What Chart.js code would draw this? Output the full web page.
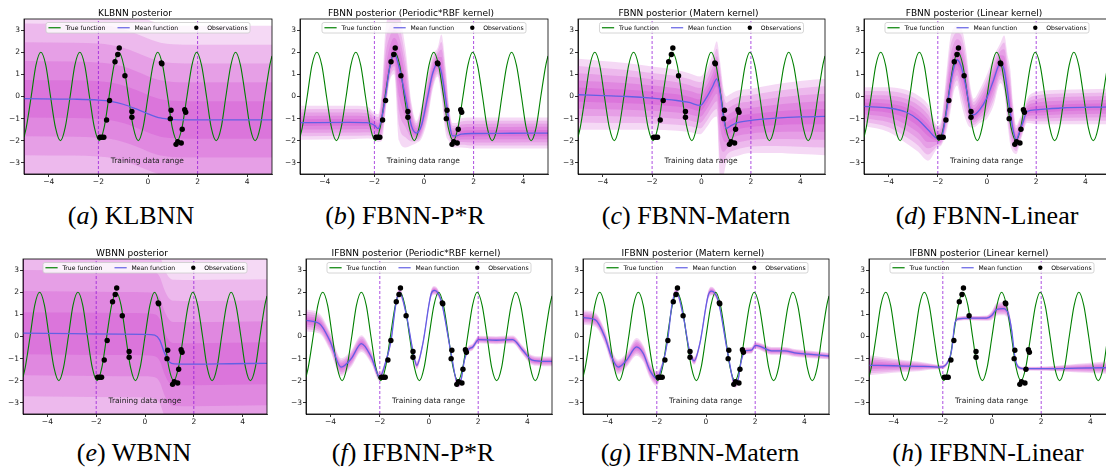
<!DOCTYPE html>
<html>
<head>
<meta charset="utf-8">
<script src="https://cdn.jsdelivr.net/npm/chart.js@4.4.0/dist/chart.umd.min.js"></script>
<style>
  body { margin: 0; width: 1106px; height: 474px; overflow: hidden; background: #fff; position: relative; }
  .cap { position: absolute; width: 320px; text-align: center; font-family: 'Liberation Serif', serif; font-size: 26px; line-height: 26px; color: #000; white-space: nowrap; }
</style>
</head>
<body>
<script>
// axis ticks and shared series
const xTicks = [-4, -2, 0, 2, 4];
const yTicks = [-3, -2, -1, 0, 1, 2, 3];
const trainRange = [-2, 2];
const seriesNames = ['True function', 'Mean function', 'Observations'];

// true function
const trueX = [-5, -4.91, -4.71, -4.52, -4.32, -4.12, -3.93, -3.73, -3.53, -3.34, -3.14, -2.95, -2.75, -2.55, -2.36, -2.16, -1.96, -1.77, -1.57, -1.37, -1.18, -0.98, -0.79, -0.59, -0.39, -0.20, 0, 0.20, 0.39, 0.59, 0.79, 0.98, 1.18, 1.37, 1.57, 1.77, 1.96, 2.16, 2.36, 2.55, 2.75, 2.95, 3.14, 3.34, 3.53, 3.73, 3.93, 4.12, 4.32, 4.52, 4.71, 4.91, 5];
const trueY = [-1.83, -1.41, 0, 1.41, 2, 1.41, 0, -1.41, -2, -1.41, 0, 1.41, 2, 1.41, 0, -1.41, -2, -1.41, 0, 1.41, 2, 1.41, 0, -1.41, -2, -1.41, 0, 1.41, 2, 1.41, 0, -1.41, -2, -1.41, 0, 1.41, 2, 1.41, 0, -1.41, -2, -1.41, 0, 1.41, 2, 1.41, 0, -1.41, -2, -1.41, 0, 1.41, 1.83];

// observations (same in every panel)
const obsX = [-1.94, -1.86, -1.78, -1.67, -1.55, -1.33, -1.22, -1.16, -0.93, -0.65, -0.65, 0.54, 0.56, 0.90, 0.93, 1.13, 1.20, 1.34, 1.38, 1.48, 1.52];
const obsY = [-1.84, -1.84, -1.84, -1.06, -0.18, 1.57, 1.90, 2.19, 0.94, -0.68, -0.94, 1.52, 1.48, -1.00, -0.62, -2.16, -2.04, -2.10, -1.48, -0.60, -0.71];

// (a) KLBNN: mean and outer band edges
const aX = [-5, -3, -2, -1.5, -1, -0.5, 0, 0.5, 1, 1.5, 3, 5];
const aMean = [-0.10, -0.12, -0.16, -0.22, -0.35, -0.55, -0.78, -0.97, -1.04, -1.06, -1.06, -1.06];
const aHi = [4.15, 4.13, 4.09, 4.03, 3.90, 3.70, 3.47, 3.28, 3.21, 3.19, 3.19, 3.19];
const aLo = [-4.35, -4.37, -4.41, -4.47, -4.60, -4.80, -5.03, -5.22, -5.29, -5.31, -5.31, -5.31];

// (b) FBNN Periodic*RBF
const bX = [-5, -3, -2.3, -2.0, -1.85, -1.7, -1.55, -1.4, -1.2, -1.0, -0.75, -0.5, -0.3, -0.1, 0.15, 0.35, 0.55, 0.7, 0.88, 1.0, 1.15, 1.3, 1.5, 2.0, 3.5, 5];
const bMean = [-1.18, -1.17, -1.18, -1.3, -1.45, -0.95, 0.0, 1.2, 1.95, 1.3, 0.0, -1.35, -1.65, -1.3, 0.0, 1.05, 1.5, 1.1, -0.15, -1.05, -1.78, -1.78, -1.70, -1.67, -1.66, -1.65];
const bHi = [-0.42, -0.42, -0.45, -0.75, -0.8, 0.3, 3.1, 3.6, 3.7, 3.6, 2.2, -0.3, -1.1, -0.4, 1.0, 1.9, 2.2, 2.8, 1.3, -0.3, -1.2, -1.2, -0.98, -0.95, -0.95, -0.95];
const bLo = [-1.95, -1.93, -1.9, -1.95, -2.05, -2.0, -0.7, 0.6, 1.0, -2.0, -2.3, -2.2, -2.1, -1.9, -1.0, 0.3, 0.9, 0.0, -1.7, -2.0, -2.3, -2.3, -2.3, -2.35, -2.35, -2.35];

// (c) FBNN Matern
const cX = [-5, -4, -3, -2, -1, -0.5, -0.05, 0.2, 0.45, 0.62, 0.75, 0.9, 1.0, 1.15, 1.4, 2.0, 3.0, 4.0, 5];
const cMean = [0.08, 0.04, 0.0, -0.07, -0.18, -0.27, -0.40, -0.05, 0.45, 0.8, 0.2, -1.0, -1.45, -1.35, -1.2, -1.08, -0.98, -0.92, -0.90];
const cHi = [1.7, 1.6, 1.5, 1.35, 1.2, 1.05, 0.9, 1.25, 1.9, 2.5, 1.6, 0.3, 0.0, 0.1, 0.25, 0.35, 0.55, 0.7, 0.8];
const cLo = [-1.5, -1.5, -1.5, -1.5, -1.55, -1.6, -1.7, -1.4, -1.0, -0.9, -3.6, -3.5, -3.0, -2.8, -2.7, -2.55, -2.55, -2.6, -2.65];

// (d) FBNN Linear
const dX = [-5, -4, -3.3, -2.8, -2.4, -2.0, -1.85, -1.7, -1.5, -1.35, -1.22, -1.05, -0.85, -0.68, -0.54, -0.3, 0.0, 0.27, 0.54, 0.7, 0.85, 0.95, 1.05, 1.19, 1.32, 1.45, 1.63, 2.0, 3.0, 5];
const dMean = [-0.45, -0.52, -0.70, -1.05, -1.5, -1.9, -1.85, -1.05, 0.45, 1.3, 1.66, 1.35, 0.4, -0.6, -0.83, -0.6, -0.05, 0.75, 1.5, 1.2, 0.1, -0.75, -1.45, -1.96, -1.6, -1.2, -0.68, -0.6, -0.52, -0.47];
const dHi = [0.42, 0.42, 0.3, 0.05, -0.35, -1.3, -1.0, 0.5, 2.6, 3.1, 3.2, 3.1, 2.1, 0.5, -0.1, 0.3, 1.0, 1.8, 2.4, 2.75, 1.8, 1.2, -0.2, -1.3, -1.0, -0.7, -0.1, 0.2, 0.3, 0.35];
const dLo = [-1.33, -1.6, -2.1, -2.5, -2.9, -2.3, -2.2, -1.8, -0.8, 0.2, 0.5, -0.3, -1.1, -1.4, -1.4, -1.2, -1.0, -0.4, 0.6, 0.2, -1.4, -2.2, -2.5, -2.6, -2.2, -1.7, -1.2, -1.25, -1.25, -1.25];

// (e) WBNN
const eX = [-5, -3, -1, 0, 0.4, 0.6, 0.8, 1.0, 1.2, 2, 3.5, 5];
const eMean = [0.15, 0.13, 0.11, 0.10, 0.06, -0.15, -0.75, -1.15, -1.24, -1.25, -1.23, -1.21];
const eHi = [4.90, 4.88, 4.86, 4.85, 4.81, 4.60, 4.00, 3.60, 3.51, 3.50, 3.52, 3.54];
const eLo = [-4.60, -4.62, -4.64, -4.65, -4.69, -4.90, -5.50, -5.90, -5.99, -6.00, -5.98, -5.96];

// (f) IFBNN Periodic*RBF
const fX = [-5, -4.45, -4.04, -3.57, -3.16, -2.75, -2.35, -2.0, -1.74, -1.54, -1.35, -1.2, -0.93, -0.66, -0.5, -0.25, 0.09, 0.22, 0.49, 0.9, 1.17, 1.3, 1.44, 1.58, 1.78, 2.02, 2.73, 3.4, 3.81, 4.2, 4.62, 5];
const fMean = [0.73, 0.58, -0.17, -1.38, -1.0, -0.32, -0.92, -1.83, -1.07, -0.17, 1.45, 2.0, 1.03, -0.62, -1.3, -0.32, 1.93, 2.08, 1.63, -0.77, -2.13, -1.98, -1.07, -0.62, -0.47, -0.14, -0.17, -0.14, -0.62, -1.07, -1.12, -1.12];
const fHi = [1.23, 1.03, 0.25, -0.98, -0.62, 0.06, -0.62, -1.63, -0.92, -0.02, 1.65, 2.2, 1.18, -0.47, -1.12, -0.17, 2.11, 2.28, 1.78, -0.62, -1.95, -1.80, -0.92, -0.47, -0.32, 0.03, 0.01, 0.04, -0.42, -0.85, -0.90, -0.90];
const fLo = [0.23, 0.13, -0.59, -1.78, -1.38, -0.70, -1.22, -2.03, -1.22, -0.32, 1.25, 1.8, 0.88, -0.77, -1.48, -0.47, 1.75, 1.88, 1.48, -0.92, -2.31, -2.16, -1.22, -0.77, -0.62, -0.31, -0.35, -0.32, -0.82, -1.29, -1.34, -1.34];

// (g) IFBNN Matern
const gX = [-5, -4.51, -4.11, -3.84, -3.57, -3.23, -2.82, -2.55, -2.28, -2.0, -1.74, -1.56, -1.38, -1.2, -0.93, -0.66, -0.48, -0.25, 0.09, 0.22, 0.49, 0.9, 1.17, 1.28, 1.44, 1.58, 1.85, 2.01, 2.25, 2.66, 3.2, 3.6, 4.15, 5];
const gMean = [0.85, 0.76, -0.02, -0.92, -1.38, -1.07, -0.47, -0.77, -1.53, -1.9, -1.15, -0.17, 1.45, 2.0, 0.95, -0.7, -1.1, -0.32, 1.86, 2.05, 1.63, -0.85, -2.13, -2.05, -1.07, -0.65, -0.62, -0.4, -0.47, -0.65, -0.65, -0.74, -0.8, -0.88];
const gHi = [1.18, 1.08, 0.30, -0.60, -1.05, -0.75, -0.07, -0.39, -1.18, -1.56, -1.0, -0.02, 1.63, 2.2, 1.1, -0.55, -0.92, -0.17, 2.06, 2.25, 1.78, -0.7, -1.95, -1.87, -0.92, -0.5, -0.47, -0.25, -0.3, -0.47, -0.47, -0.56, -0.63, -0.73];
const gLo = [0.52, 0.44, -0.34, -1.24, -1.71, -1.39, -0.87, -1.15, -1.88, -2.24, -1.3, -0.32, 1.27, 1.8, 0.8, -0.85, -1.28, -0.47, 1.66, 1.85, 1.48, -1.0, -2.31, -2.23, -1.22, -0.8, -0.77, -0.55, -0.64, -0.83, -0.83, -0.92, -0.97, -1.03];

// (h) IFBNN Linear
const hX = [-5, -4, -3, -2.5, -2.11, -1.84, -1.64, -1.5, -1.36, -0.89, -0.22, -0.01, 0.19, 0.46, 0.66, 0.8, 0.93, 1.07, 1.27, 2.22, 3.5, 5];
const hMean = [-1.3, -1.32, -1.35, -1.36, -1.38, -1.23, -0.62, 0.65, 0.8, 0.83, 0.83, 0.95, 1.23, 1.26, 1.03, 0.28, -0.92, -1.38, -1.45, -1.45, -1.43, -1.4];
const hHi = [-0.85, -1.0, -1.13, -1.22, -1.28, -1.13, -0.52, 0.75, 0.9, 0.93, 0.95, 1.15, 1.51, 1.56, 1.31, 0.48, -0.8, -1.28, -1.37, -1.35, -1.23, -1.1];
const hLo = [-1.75, -1.64, -1.57, -1.50, -1.48, -1.33, -0.72, 0.55, 0.7, 0.73, 0.71, 0.75, 0.95, 0.96, 0.75, 0.08, -1.04, -1.48, -1.53, -1.55, -1.63, -1.7];

// styles
const bandLevels = 5;
const bandColor = 'rgba(195, 20, 195, 0.16)';
const meanColor = 'rgb(98, 96, 228)';
const trueColor = '#008000';
const rangeColor = 'rgba(145, 20, 215, 0.75)';

// layout: chart-area box of every panel plus its caption
const panels = [
  { title: 'KLBNN posterior', tag: 'a', name: 'KLBNN', L: 24, T: 19, W: 248, H: 155, capX: 131, capY: 203, x: aX, mean: aMean, hi: aHi, lo: aLo },
  { title: 'FBNN posterior (Periodic*RBF kernel)', tag: 'b', name: 'FBNN-P*R', L: 300, T: 19, W: 248, H: 155, capX: 405, capY: 203, x: bX, mean: bMean, hi: bHi, lo: bLo },
  { title: 'FBNN posterior (Matern kernel)', tag: 'c', name: 'FBNN-Matern', L: 578, T: 19, W: 247, H: 155, capX: 696, capY: 203, x: cX, mean: cMean, hi: cHi, lo: cLo },
  { title: 'FBNN posterior (Linear kernel)', tag: 'd', name: 'FBNN-Linear', L: 864, T: 19, W: 246, H: 155, capX: 987, capY: 203, x: dX, mean: dMean, hi: dHi, lo: dLo },
  { title: 'WBNN posterior', tag: 'e', name: 'WBNN', L: 23, T: 259, W: 244, H: 155, capX: 134, capY: 440, x: eX, mean: eMean, hi: eHi, lo: eLo },
  { title: 'IFBNN posterior (Periodic*RBF kernel)', tag: 'f', name: 'IFBNN-P*R', L: 306, T: 259, W: 246, H: 155, capX: 413, capY: 440, x: fX, mean: fMean, hi: fHi, lo: fLo },
  { title: 'IFBNN posterior (Matern kernel)', tag: 'g', name: 'IFBNN-Matern', L: 583, T: 259, W: 246, H: 155, capX: 700, capY: 440, x: gX, mean: gMean, hi: gHi, lo: gLo },
  { title: 'IFBNN posterior (Linear kernel)', tag: 'h', name: 'IFBNN-Linear', L: 869, T: 259, W: 246, H: 155, capX: 988, capY: 440, x: hX, mean: hMean, hi: hHi, lo: hLo },
];

Chart.defaults.font.family = '"DejaVu Sans", sans-serif';

const minusFmt = v => (v < 0 ? '\u2212' + Math.abs(v) : String(v));
const pts = (xs, ys) => xs.map((x, i) => ({ x: x, y: ys[i] }));

// frame, "Training data range" note and the boxed legend inside the axes
const overlay = {
  id: 'overlay',
  afterDraw(chart) {
    const ctx = chart.ctx;
    const a = chart.chartArea;
    const xs = chart.scales.x, ys = chart.scales.y;
    ctx.save();

    ctx.fillStyle = '#222';
    ctx.font = '7.5px "DejaVu Sans"';
    ctx.textAlign = 'left';
    ctx.textBaseline = 'alphabetic';
    ctx.fillText('Training data range', xs.getPixelForValue(-1.5), ys.getPixelForValue(-3.0));

    ctx.strokeStyle = '#000';
    ctx.lineWidth = 0.8;
    ctx.strokeRect(a.left, a.top, a.right - a.left, a.bottom - a.top);

    const fs = 6.1;
    ctx.font = fs + 'px "DejaVu Sans"';
    const hl = 2 * fs, tp = 0.8 * fs, cs = 2 * fs, bp = 0.4 * fs;
    const widths = seriesNames.map(s => ctx.measureText(s).width);
    const total = 2 * bp + widths.reduce((s, w) => s + w, 0) + 3 * (hl + tp) + 2 * cs;
    let x = (a.left + a.right) / 2 - total / 2;
    const y0 = a.top + 3.5, h = 10.5, yc = y0 + h / 2;
    ctx.fillStyle = 'rgba(255,255,255,0.8)';
    ctx.strokeStyle = '#cccccc';
    ctx.lineWidth = 0.8;
    ctx.beginPath();
    ctx.roundRect(x, y0, total, h, 2);
    ctx.fill();
    ctx.stroke();
    x += bp;
    const swatch = [trueColor, meanColor, '#000'];
    seriesNames.forEach((name, i) => {
      if (i < 2) {
        ctx.strokeStyle = swatch[i];
        ctx.lineWidth = 1.2;
        ctx.beginPath();
        ctx.moveTo(x, yc);
        ctx.lineTo(x + hl, yc);
        ctx.stroke();
      } else {
        ctx.fillStyle = '#000';
        ctx.beginPath();
        ctx.arc(x + hl / 2, yc, 2.2, 0, Math.PI * 2);
        ctx.fill();
      }
      x += hl + tp;
      ctx.fillStyle = '#000';
      ctx.textBaseline = 'middle';
      ctx.fillText(name, x, yc + 0.3);
      x += widths[i] + cs;
    });
    ctx.restore();
  }
};

function buildPanel(p) {
  const canvas = document.createElement('canvas');
  const cw = p.W + 30, ch = p.H + 37;
  canvas.width = cw;
  canvas.height = ch;
  canvas.style.cssText = `position:absolute;left:${p.L - 26}px;top:${p.T - 19}px;width:${cw}px;height:${ch}px;`;
  document.body.appendChild(canvas);

  const datasets = [
    { label: seriesNames[2], data: pts(obsX, obsY), showLine: false, pointRadius: 2.7, pointBackgroundColor: '#000', pointBorderWidth: 0 },
    { label: seriesNames[1], data: pts(p.x, p.mean), borderColor: meanColor, borderWidth: 1.3, pointRadius: 0, cubicInterpolationMode: 'monotone' },
    { label: seriesNames[0], data: pts(trueX, trueY), borderColor: trueColor, borderWidth: 1.1, pointRadius: 0, cubicInterpolationMode: 'monotone' },
  ];
  trainRange.forEach(v => {
    datasets.push({ data: [{ x: v, y: -3.5 }, { x: v, y: 3.5 }], borderColor: rangeColor, borderWidth: 1, borderDash: [3, 2], pointRadius: 0 });
  });
  // nested bands between mean and outer edges
  for (let k = 1; k <= bandLevels; k++) {
    const f = k / bandLevels;
    datasets.push({ data: pts(p.x, p.mean.map((m, i) => m + (p.hi[i] - m) * f)), borderWidth: 0, pointRadius: 0, fill: '+1', backgroundColor: bandColor, cubicInterpolationMode: 'monotone' });
    datasets.push({ data: pts(p.x, p.mean.map((m, i) => m + (p.lo[i] - m) * f)), borderWidth: 0, pointRadius: 0, fill: false, cubicInterpolationMode: 'monotone' });
  }

  const tickFont = { size: 7.5 };
  const grid = { drawOnChartArea: false, drawTicks: true, tickLength: 3, color: '#000', lineWidth: 0.8 };
  const border = { display: true, color: '#000', width: 0.8 };

  new Chart(canvas, {
    type: 'line',
    data: { datasets: datasets },
    options: {
      animation: false,
      responsive: false,
      devicePixelRatio: 1,
      layout: { padding: { right: 4 } },
      plugins: {
        legend: { display: false },
        tooltip: { enabled: false },
        title: { display: true, text: p.title, color: '#000', font: { size: 9, weight: 'normal' }, padding: { top: 8.2, bottom: 0 } },
      },
      scales: {
        x: {
          type: 'linear', min: -5, max: 5,
          afterBuildTicks: s => { s.ticks = xTicks.map(v => ({ value: v })); },
          afterFit: s => { s.height = 18; },
          ticks: { font: tickFont, color: '#222', padding: 1, maxRotation: 0, callback: minusFmt },
          grid: grid, border: border,
        },
        y: {
          min: -3.5, max: 3.5,
          afterBuildTicks: s => { s.ticks = yTicks.map(v => ({ value: v })); },
          afterFit: s => { s.width = 26; },
          ticks: { font: tickFont, color: '#222', padding: 1, callback: minusFmt },
          grid: grid, border: border,
        },
      },
    },
    plugins: [overlay],
  });

  const cap = document.createElement('div');
  cap.className = 'cap';
  cap.style.left = (p.capX - 160) + 'px';
  cap.style.top = p.capY + 'px';
  cap.innerHTML = `(<i>${p.tag}</i>) ${p.name}`;
  document.body.appendChild(cap);
}

panels.forEach(buildPanel);
</script>
</body>
</html>
